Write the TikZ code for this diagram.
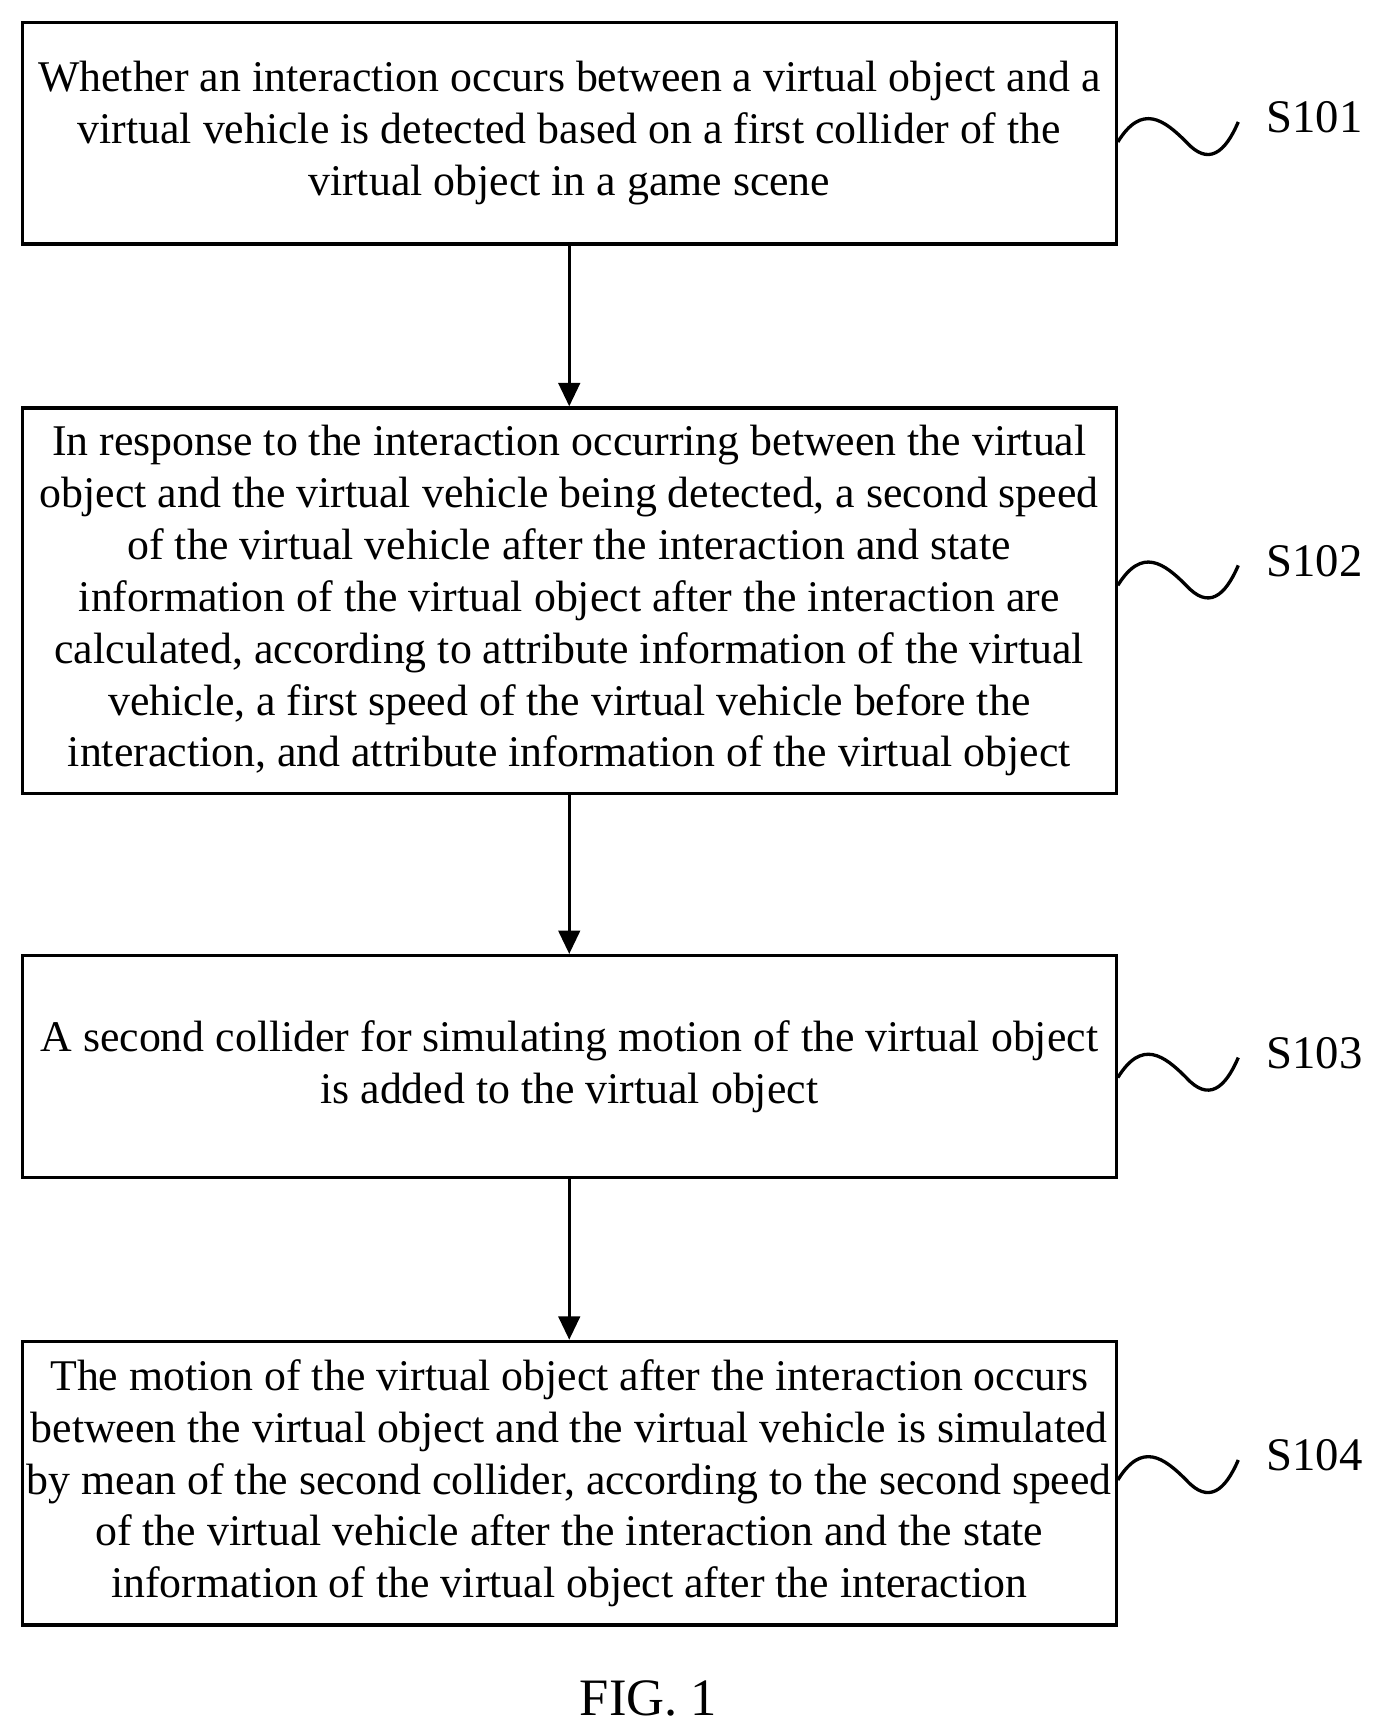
\documentclass[tikz,border=0pt]{standalone}
\usepackage{fontspec}
\setmainfont{Liberation Serif}
\usetikzlibrary{positioning,arrows.meta}
\begin{document}
\begin{tikzpicture}[x=0.02cm,y=-0.02cm,line width=1.7pt,
  stepbox/.style={draw,minimum width=19.74cm,align=center,
    font=\fontsize{22.5}{26.6}\selectfont,inner sep=0pt},
  flow/.style={-{Triangle[length=12pt,width=11pt]}},
  steplabel/.style={anchor=west,font=\fontsize{24}{28}\selectfont}]
\useasboundingbox (0,0) rectangle (1245,1566);

\node[stepbox,minimum height=4cm] (s1) at (513.5,120)
  {Whether an interaction occurs between a virtual object and a\\
   virtual vehicle is detected based on a first collider of the\\
   virtual object in a game scene};
\node[stepbox,minimum height=6.96cm] (s2) at (513.5,542)
  {In response to the interaction occurring between the virtual\\
   object and the virtual vehicle being detected, a second speed\\
   of the virtual vehicle after the interaction and state\\
   information of the virtual object after the interaction are\\
   calculated, according to attribute information of the virtual\\
   vehicle, a first speed of the virtual vehicle before the\\
   interaction, and attribute information of the virtual object};
\node[stepbox,minimum height=4cm] (s3) at (513.5,962)
  {A second collider for simulating motion of the virtual object\\
   is added to the virtual object};
\node[stepbox,minimum height=5.12cm] (s4) at (513.5,1338)
  {The motion of the virtual object after the interaction occurs\\
   between the virtual object and the virtual vehicle is simulated\\
   by mean of the second collider, according to the second speed\\
   of the virtual vehicle after the interaction and the state\\
   information of the virtual object after the interaction};

% arrows between steps
\draw[flow] (s1) -- (s2);
\draw[flow] (s2) -- (s3);
\draw[flow] (s3) -- (s4);

% wavy leaders to step labels
\foreach \b/\yy/\t in {s1/128/S101,s2/528/S102,s3/972/S103,s4/1335/S104}{
  \coordinate (w\t) at (1117,\yy-18);
  \draw (\b.east |- 0,\yy) .. controls (1030,\yy-35) and (1050,\yy-20) .. (1070,\yy)
    .. controls (1090,\yy+22) and (1105,\yy+10) .. (w\t);
  \node[steplabel] (l\t) at (1135,\yy-22) {\t};
}

\node[font=\fontsize{27}{30}\selectfont] (fig) at (585,1532) {FIG. 1};
\end{tikzpicture}
\end{document}
